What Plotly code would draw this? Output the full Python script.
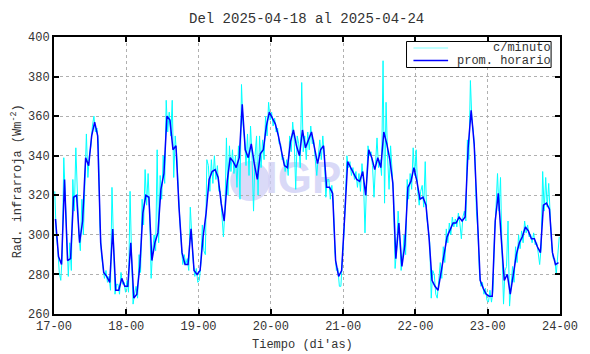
import plotly.graph_objects as go

# ---------------- data ----------------
tick_vals = [17, 18, 19, 20, 21, 22, 23, 24]
tick_text = ["17-00", "18-00", "19-00", "20-00", "21-00", "22-00", "23-00", "24-00"]
y_ticks = [260, 280, 300, 320, 340, 360, 380, 400]

# hourly means (prom. horario), one value per hour, day 17 .. day 23
hourly_d17 = [308, 289, 285, 328, 287, 288, 319, 320, 296, 307, 339, 335, 350, 357, 350, 296, 281, 279, 276, 303, 272, 272, 278, 274]
hourly_d18 = [274, 296, 268, 270, 284, 311, 320, 319, 287, 296, 301, 323, 331, 360, 358, 343, 345, 314, 291, 285, 285, 303, 282, 280]
hourly_d19 = [282, 299, 311, 328, 332, 333, 329, 316, 307, 327, 339, 337, 334, 339, 366, 343, 339, 346, 336, 328, 341, 343, 355, 362]
hourly_d20 = [359, 356, 350, 342, 335, 334, 347, 353, 345, 340, 353, 344, 348, 352, 344, 336, 343, 345, 324, 324, 321, 287, 279, 282]
hourly_d21 = [309, 337, 334, 331, 328, 327, 332, 320, 343, 339, 333, 339, 334, 352, 346, 338, 326, 288, 306, 284, 295, 324, 327, 334]
hourly_d22 = [327, 318, 319, 315, 299, 277, 274, 272, 282, 290, 299, 303, 306, 306, 309, 307, 309, 344, 363, 346, 307, 277, 273, 270]
hourly_d23 = [269, 269, 307, 321, 298, 277, 280, 270, 280, 290, 296, 299, 304, 302, 298, 298, 294, 291, 315, 316, 313, 291, 285, 286]

# sampled per-minute readings (c/minuto), two readings per hour
minute_d17 = [322, 300, 293, 281, 277, 290, 339, 318, 290, 279, 296, 282, 328, 312, 344, 316,
              300, 292, 318, 300, 330, 351, 329, 340, 345, 355, 360, 352, 354, 346, 305, 290,
              284, 278, 282, 276, 279, 272, 324, 296, 270, 275, 275, 270, 281, 275, 276, 271]
minute_d18 = [277, 271, 322, 290, 265, 270, 274, 268, 290, 281, 318, 305, 333, 315, 331, 312,
              278, 292, 300, 292, 343, 296, 330, 318, 340, 326, 368, 352, 362, 350, 368, 329,
              350, 340, 320, 308, 296, 285, 290, 285, 288, 282, 314, 298, 286, 279, 283, 276]
minute_d19 = [277, 285, 305, 292, 290, 338, 335, 322, 338, 326, 340, 328, 335, 322, 322, 310,
              299, 312, 349, 320, 345, 332, 343, 331, 340, 324, 345, 318, 376, 356, 349, 335,
              351, 330, 355, 340, 312, 340, 350, 320, 350, 334, 348, 338, 360, 350, 367, 358]
minute_d20 = [362, 355, 359, 352, 354, 346, 346, 338, 339, 332, 338, 330, 350, 342, 357, 348,
              323, 350, 346, 334, 377, 342, 350, 338, 352, 343, 355, 346, 348, 338, 330, 340,
              348, 338, 350, 340, 319, 328, 328, 318, 325, 316, 292, 282, 283, 274, 274, 288]
minute_d21 = [300, 318, 340, 334, 337, 330, 334, 328, 332, 324, 331, 322, 336, 328, 301, 325,
              345, 340, 342, 335, 319, 336, 349, 334, 338, 330, 388, 316, 367, 340, 323, 345,
              330, 320, 283, 292, 312, 300, 282, 288, 300, 290, 328, 318, 331, 323, 344, 330]
minute_d22 = [343, 322, 315, 322, 325, 314, 337, 309, 303, 296, 268, 282, 280, 270, 268, 276,
              286, 278, 294, 286, 303, 296, 306, 300, 309, 304, 308, 304, 311, 306, 298, 309,
              312, 307, 348, 338, 378, 358, 352, 340, 312, 302, 281, 274, 276, 270, 273, 267]
minute_d23 = [266, 272, 266, 272, 300, 314, 331, 312, 329, 292, 265, 282, 284, 307, 264, 274,
              284, 276, 294, 286, 300, 293, 302, 296, 307, 301, 305, 299, 300, 296, 301, 295,
              296, 291, 285, 294, 332, 312, 329, 314, 326, 310, 294, 288, 288, 280, 290, 299]

hourly = hourly_d17 + hourly_d18 + hourly_d19 + hourly_d20 + hourly_d21 + hourly_d22 + hourly_d23
minute = minute_d17 + minute_d18 + minute_d19 + minute_d20 + minute_d21 + minute_d22 + minute_d23

# time in days (hourly means centred on the half hour)
hourly_t = [17 + (i + 0.5) / 24 for i in range(len(hourly))]
minute_t = [17 + (i // 2 + 0.25 + 0.5 * (i % 2)) / 24 for i in range(len(minute))]

# ---------------- figure ----------------
W, H = 590, 354
L, R, T, B = 54, 25, 37, 40
PW, PH = W - L - R, H - T - B

def px(xp):
    return (xp - L) / PW

def py(yp):
    return (H - B - yp) / PH

FONT = "Liberation Mono, Courier New, monospace"
TXT = "#333333"
WM = "rgba(205,205,245,0.75)"

fig = go.Figure()
# faint IGP watermark text, drawn beneath the data lines
fig.add_trace(go.Scatter(x=[20.45], y=[326.5], mode="text", text=["<b>IGP</b>"],
                         textfont=dict(family="Liberation Sans", size=44, color=WM),
                         hoverinfo="skip", showlegend=False))
fig.add_trace(go.Scatter(x=minute_t, y=minute, mode="lines", name="c/minuto",
                         line=dict(color="#00ffff", width=1), showlegend=False))
fig.add_trace(go.Scatter(x=hourly_t, y=hourly, mode="lines", name="prom. horario",
                         line=dict(color="#0000ff", width=1.5), showlegend=False))

axis_common = dict(
    showline=True, linecolor="black", linewidth=2, mirror="allticks",
    ticks="inside", ticklen=5, tickwidth=1.5, tickcolor="black",
    showgrid=True, gridcolor="#b0b0b0", gridwidth=1, griddash="dot",
    zeroline=False,
    tickfont=dict(family=FONT, size=12, color=TXT),
)

fig.update_xaxes(range=[17, 24], tickvals=tick_vals, ticktext=tick_text, **axis_common)
fig.update_yaxes(range=[260, 400], tickvals=y_ticks, **axis_common)

shapes = [
    # watermark logo circle
    dict(type="circle", xref="paper", yref="paper", layer="below",
         x0=px(232), x1=px(272), y0=py(201), y1=py(161),
         fillcolor=WM, line=dict(width=0)),
    # legend box
    dict(type="rect", xref="paper", yref="paper",
         x0=px(410), x1=px(556), y0=py(67.5), y1=py(41.5),
         fillcolor="white", line=dict(color="black", width=1)),
    dict(type="line", xref="paper", yref="paper",
         x0=px(417), x1=px(452), y0=py(48), y1=py(48),
         line=dict(color="#80ffff", width=1)),
    dict(type="line", xref="paper", yref="paper",
         x0=px(417), x1=px(452), y0=py(60.5), y1=py(60.5),
         line=dict(color="#0000ff", width=1.5)),
]

annotations = [
    dict(text="c/minuto", xref="paper", yref="paper", x=px(558), y=py(48),
         showarrow=False, xanchor="right", yanchor="middle",
         font=dict(family=FONT, size=12, color=TXT)),
    dict(text="prom. horario", xref="paper", yref="paper", x=px(558), y=py(60.5),
         showarrow=False, xanchor="right", yanchor="middle",
         font=dict(family=FONT, size=12, color=TXT)),
    dict(text="Del 2025-04-18 al 2025-04-24", xref="paper", yref="paper",
         x=px(309), y=py(19), showarrow=False, xanchor="center", yanchor="middle",
         font=dict(family=FONT, size=14, color=TXT)),
    dict(text="Tiempo (di'as)", xref="paper", yref="paper",
         x=px(305), y=py(345), showarrow=False, xanchor="center", yanchor="middle",
         font=dict(family=FONT, size=12, color=TXT)),
    dict(text="Rad. infrarroja (Wm<sup>-2</sup>)", xref="paper", yref="paper",
         x=px(17), y=py(181), showarrow=False, xanchor="center", yanchor="middle",
         textangle=-90, font=dict(family=FONT, size=12, color=TXT)),
]

fig.update_layout(
    width=W, height=H,
    margin=dict(l=L, r=R, t=T, b=B, pad=0),
    paper_bgcolor="white", plot_bgcolor="white",
    shapes=shapes, annotations=annotations,
    showlegend=False,
)

fig.write_html("out.html", config={"displayModeBar": False},
               post_script="document.body.style.margin='0';document.body.style.overflow='hidden';")
